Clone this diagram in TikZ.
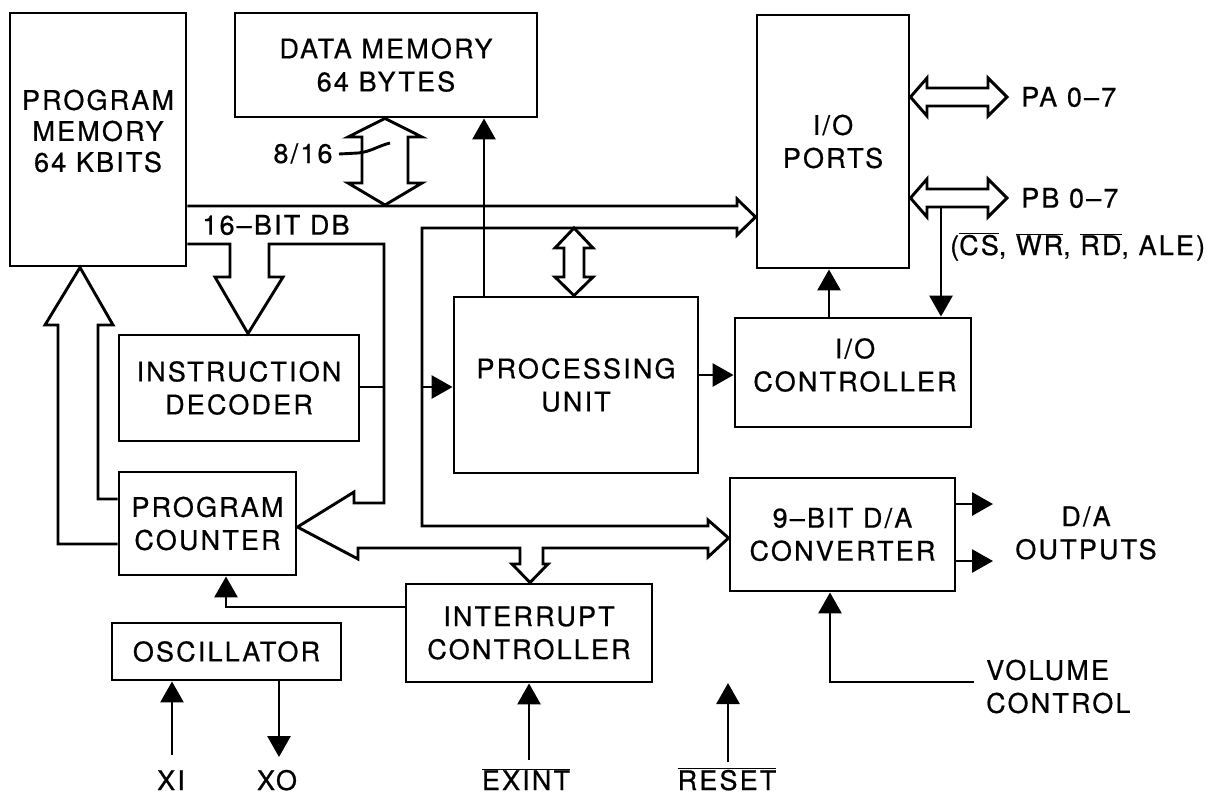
\documentclass[tikz,border=0pt]{standalone}
\usepackage{fontspec}
\setmainfont{TeX Gyre Heros}[LetterSpace=8,FakeBold=0.6]
\usetikzlibrary{arrows.meta}
\begin{document}
\begin{tikzpicture}[x=1pt,y=-1pt,
  every node/.style={font=\fontsize{27}{33}\selectfont, inner sep=0pt},
  box/.style={draw, line width=2.9pt, align=center},
  lw/.style={line width=2.9pt},
  arr/.style={line width=2.9pt, -{Triangle[length=21pt,width=23pt]}},
  bus/.style={line width=2.9pt, line join=miter}]
\useasboundingbox (0,0) rectangle (1220,796);

% ---------- blocks ----------
\node[box, minimum width=176, minimum height=253] (pm) at (98,139.5) {};
\node[align=center, font=\fontsize{27}{31}\selectfont] (pmt) at (98,131) {PROGRAM\\MEMORY\\64 KBITS};
\node[box, minimum width=302, minimum height=104] (dm) at (386,65) {DATA MEMORY\\64 BYTES};
\node[box, minimum width=152, minimum height=253] (io) at (833,141.5) {I/O\\PORTS};
\node[box, minimum width=240, minimum height=106] (id) at (239,388) {INSTRUCTION\\DECODER};
\node[box, minimum width=177, minimum height=103] (pc) at (207.5,523.5) {PROGRAM\\COUNTER};
\node[box, minimum width=244, minimum height=176] (pu) at (576,385) {PROCESSING\\UNIT};
\node[box, minimum width=236, minimum height=109] (ioc) at (853,372.5) {};
\node[align=center] (ioct) at (855,365) {I/O\\CONTROLLER};
\node[box, minimum width=225, minimum height=113] (da) at (842.5,534.5) {9--BIT D/A\\CONVERTER};
\node[box, minimum width=246, minimum height=98] (ic) at (529,633) {INTERRUPT\\CONTROLLER};
\node[box, minimum width=229, minimum height=57] (osc) at (226.5,651.5) {OSCILLATOR};

% ---------- labels ----------
\node (db) at (276,225) {16--BIT DB};
\node[anchor=base] (w816) at (303,163) {8/16};
\node[anchor=west] (pa) at (1021,97) {PA 0--7};
\node[anchor=west] (pb) at (1021,198) {PB 0--7};
\node[anchor=base west] (pbs) at (950,255) {($\overline{\mbox{CS}}$, $\overline{\mbox{WR}}$, $\overline{\mbox{RD}}$, ALE)};
\node[align=center] (dao) at (1086,533) {D/A\\OUTPUTS};
\node[align=left, anchor=west] (vol) at (986,686.5) {VOLUME\\CONTROL};
\node[anchor=base] (xil) at (171,790) {XI};
\node[anchor=base] (xol) at (277,790) {XO};
\node[anchor=base] (exl) at (526,790) {$\overline{\mbox{EXINT}}$};
\node[anchor=base] (rsl) at (727,790) {$\overline{\mbox{RESET}}$};

% ---------- coordinates ----------
\coordinate (dmc) at (484,0);
\coordinate (busL) at (422,387);
\coordinate (idr) at (384,387);
\coordinate (puio) at (698,375);
\coordinate (iox) at (829,0);
\coordinate (pbx) at (941,207);
\coordinate (pcin) at (226,607);
\coordinate (xi) at (172,755);
\coordinate (xo) at (279,757);
\coordinate (exi) at (529,760);
\coordinate (rs0) at (728,762);
\coordinate (rs1) at (728,683);
\coordinate (volr) at (974,682);
\coordinate (volc) at (830,682);
\coordinate (dao1) at (993,504);
\coordinate (dao2) at (993,561);

% ---------- hollow buses ----------
\draw[bus] (pm.east |- 0,206) -- (737,206) -- (737,199) -- (io.west |- 0,217) -- (737,235) -- (737,228)
  -- (422,228) -- (422,526) -- (708,526) -- (708,520) -- (da.west |- 0,538) -- (708,557) -- (708,548)
  -- (543,548) -- (543,564) -- (548,564) -- (ic.north -| 530,0) -- (512,564) -- (520,564) -- (520,548)
  -- (358,548) -- (358,559) -- (pc.east |- 0,527) -- (354,492) -- (354,503) -- (384,503)
  -- (384,244) -- (269,244) -- (269,277) -- (283,277) -- (id.north -| 248,0) -- (215,277) -- (230,277)
  -- (230,244) -- (pm.east |- 0,244);
\draw[bus] (pc.west |- 0,544) -- (58,544) -- (58,325) -- (45,325) -- (pm.south -| 80,0) -- (113,325)
  -- (98,325) -- (98,499) -- (pc.west |- 0,499);
\draw[bus] (dm.south -| 385,0) -- (422,137) -- (408,137) -- (408,183) -- (422,183) -- (385,205)
  -- (348,183) -- (362,183) -- (362,137) -- (348,137) -- cycle;
\draw[bus] (574,228) -- (593,248) -- (584,248) -- (584,277) -- (593,277) -- (pu.north -| 574,0)
  -- (555,277) -- (564,277) -- (564,248) -- (555,248) -- cycle;
\draw[bus] (io.east |- 0,97) -- (927,78) -- (927,88) -- (988,88) -- (988,78) -- (1007,97)
  -- (988,116) -- (988,106) -- (927,106) -- (927,116) -- cycle;
\draw[bus] (io.east |- 0,198) -- (927,179) -- (927,189) -- (988,189) -- (988,179) -- (1007,198)
  -- (988,217) -- (988,207) -- (927,207) -- (927,217) -- cycle;
\draw[lw] (339,154) -- (358,153) .. controls (370,152) and (378,146) .. (390,143);

% ---------- simple connectors ----------
\draw[arr] (pu.north -| dmc) -- (dm.south -| dmc);
\draw[arr] (busL) -- (pu.west |- busL);
\draw[lw] (id.east |- idr) -- (idr);
\draw[arr] (puio) -- (ioc.west |- puio);
\draw[arr] (ioc.north -| iox) -- (io.south -| iox);
\draw[arr] (pbx) -- (ioc.north -| pbx);
\draw[arr] (ic.west |- pcin) -- (pcin) -- (pc.south -| pcin);
\draw[arr] (xi) -- (osc.south -| xi);
\draw[arr] (osc.south -| xo) -- (xo);
\draw[arr] (exi) -- (ic.south -| exi);
\draw[arr] (rs0) -- (rs1);
\draw[arr] (volr) -- (volc) -- (da.south -| volc);
\draw[arr] (da.east |- dao1) -- (dao1);
\draw[arr] (da.east |- dao2) -- (dao2);
\end{tikzpicture}
\end{document}
